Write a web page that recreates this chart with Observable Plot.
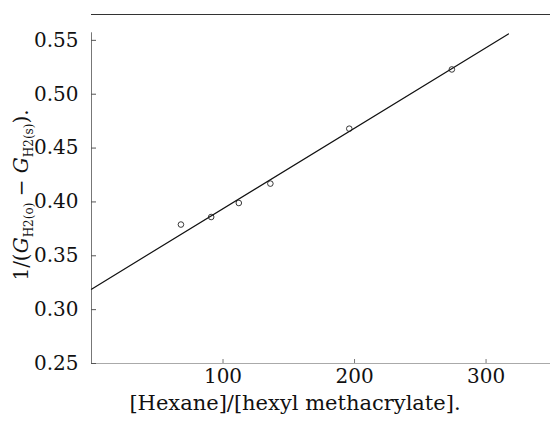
<!DOCTYPE html>
<html>
<head>
<meta charset="utf-8">
<script src="https://cdn.jsdelivr.net/npm/d3@7"></script>
<script src="https://cdn.jsdelivr.net/npm/@observablehq/plot@0.6"></script>
<style>
  html, body { margin: 0; padding: 0; background: #fff; }
  #chart svg { display: block; }
</style>
</head>
<body>
<div id="chart"></div>
<script>
// Data
const ratio = [68, 91, 112, 136, 196, 274];          // [Hexane]/[hexyl methacrylate]
const invG  = [0.379, 0.386, 0.399, 0.417, 0.468, 0.523]; // 1/(G_H2(o) - G_H2(s))
const fitX  = [0, 317];          // fitted line end points
const fitY  = [0.319, 0.556];
const xTicks = [100, 200, 300];
const yTicks = [0.25, 0.30, 0.35, 0.40, 0.45, 0.50, 0.55];
const xDomain = [0, 349];
const yDomain = [0.25, 0.574];
const yAxisSpan = [0.25, 0.557];

const pts = ratio.map((x, i) => ({x, y: invG[i]}));
const fit = fitX.map((x, i) => ({x, y: fitY[i]}));

const font = "DejaVu Serif, Liberation Serif, serif";

const chart = Plot.plot({
  width: 551,
  height: 422,
  marginLeft: 91,
  marginRight: 1,
  marginTop: 14,
  marginBottom: 59,
  style: {fontFamily: font, fontSize: "20px", background: "#fff", color: "#111"},
  x: {domain: xDomain, label: null},
  y: {domain: yDomain, label: null},
  marks: [
    // frame-like top rule
    Plot.ruleY([yDomain[1]], {stroke: "#333", strokeWidth: 1}),
    // y axis line
    Plot.ruleX([0], {y1: yAxisSpan[0], y2: yAxisSpan[1], stroke: "#777", strokeWidth: 1}),
    // x axis line (faint in the scan)
    Plot.ruleY([yDomain[0]], {stroke: "#aaa", strokeWidth: 1}),
    // y ticks pointing inward
    Plot.axisY(yTicks, {anchor: "left", tickSize: 5, dx: 5, tickFormat: () => "", stroke: "#555"}),
    Plot.axisY(yTicks, {anchor: "left", tickSize: 0, tickPadding: 13, tickFormat: d3.format(".2f"), fontSize: 20, fill: "#111"}),
    // x ticks pointing inward
    Plot.axisX(xTicks, {anchor: "bottom", tickSize: 4, dy: -4, tickFormat: () => "", stroke: "#777"}),
    Plot.axisX(xTicks, {anchor: "bottom", tickSize: 0, tickPadding: 5, fontSize: 20, fill: "#111"}),
    // fitted line
    Plot.line(fit, {x: "x", y: "y", stroke: "#111", strokeWidth: 1.2}),
    // data points
    Plot.dot(pts, {x: "x", y: "y", r: 2.8, stroke: "#222", strokeWidth: 0.9, fill: "none"})
  ]
});

// Axis titles
const svg = d3.select(chart);
svg.append("text")
  .attr("x", 295).attr("y", 410)
  .attr("text-anchor", "middle")
  .style("font-family", font).style("font-size", "21px").attr("fill", "#111")
  .text("[Hexane]/[hexyl methacrylate].");

const yl = svg.append("text")
  .attr("transform", "translate(28,195) rotate(-90)")
  .attr("text-anchor", "middle")
  .style("font-family", font).style("font-size", "20px").attr("fill", "#111");
yl.append("tspan").text("1/(");
yl.append("tspan").attr("font-style", "italic").text("G");
yl.append("tspan").attr("font-size", "12px").attr("dy", "5").text("H2(o)");
yl.append("tspan").attr("dy", "-5").text(" − ");
yl.append("tspan").attr("font-style", "italic").text("G");
yl.append("tspan").attr("font-size", "12px").attr("dy", "5").text("H2(s)");
yl.append("tspan").attr("dy", "-5").text(").");

document.getElementById("chart").appendChild(chart);
</script>
</body>
</html>
